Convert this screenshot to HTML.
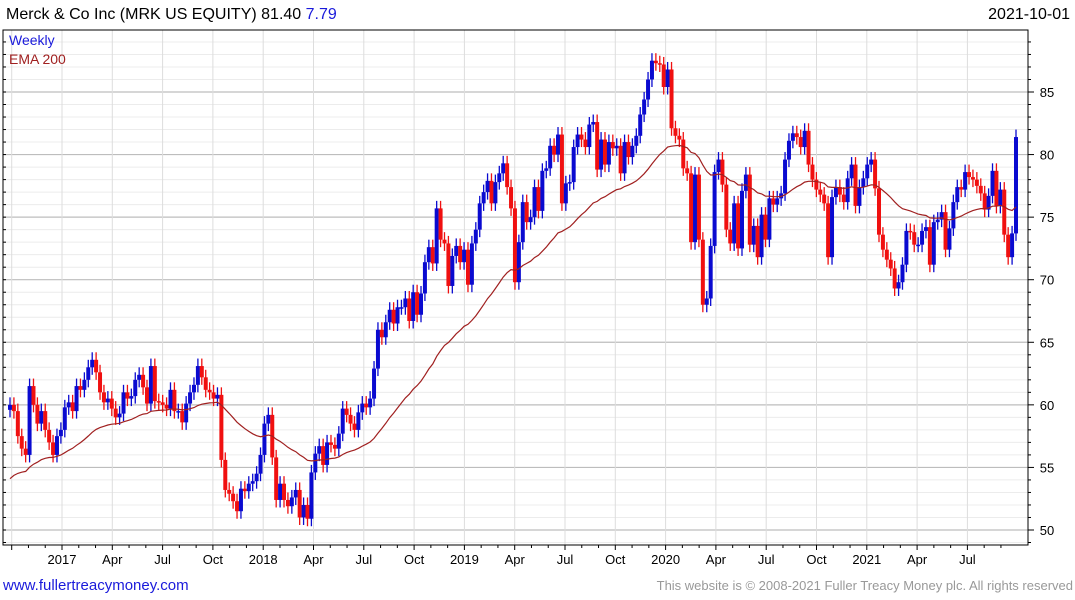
<!DOCTYPE html>
<html><head><meta charset="utf-8"><style>
body{margin:0;background:#fff;width:1075px;height:600px;overflow:hidden;font-family:"Liberation Sans",sans-serif}
svg{position:absolute;left:0;top:0}
</style></head><body>
<svg id="chart" width="1075" height="600">
<g id="grid"></g>
<g id="marks"></g>
<text x="6" y="19" font-size="16" fill="#000">Merck &amp; Co Inc (MRK US EQUITY) 81.40 <tspan fill="#1a1adb">7.79</tspan></text>
<text x="1070" y="19" font-size="16" text-anchor="end" fill="#000">2021-10-01</text>
<text x="9" y="45" font-size="14" fill="#1a1adb">Weekly</text>
<text x="9" y="64" font-size="14" fill="#a02020">EMA 200</text>
<text x="3" y="590" font-size="15" fill="#1a1adb">www.fullertreacymoney.com</text>
<text x="1073" y="590" font-size="13" text-anchor="end" fill="#999">This website is © 2008-2021 Fuller Treacy Money plc. All rights reserved</text>
</svg>
<script>
const closes=[60,59.5,57.5,56.5,56,61.5,60,58.5,59.5,58,57,56,57.5,
58,59.8,60.2,59.5,61.5,61.2,62,63,63.6,62.6,61,60.2,60.5,
59.7,59,59.3,61,60.5,60.7,62,62.4,61.4,60.1,63.1,60.3,60.2,
60,59.7,61.2,59.5,59.5,58.6,60.1,61,61.6,63.1,62.2,61.2,61,
60.5,60.8,55.6,53.2,52.9,52.3,51.5,53.3,53.1,53.7,53.9,54.5,56,
58.5,59.2,55.8,52.4,53.7,52.4,51.9,52.6,53.2,51,52,50.9,54.6,
56.1,56.7,55.2,57,56.8,56.5,57.7,59.7,59.2,58.5,58,59.4,60.1,
59.8,60.5,62.9,66,65.4,66.6,67.6,66.5,67.8,67.8,68.5,66.7,69,
67.2,68.9,71.4,72.6,71.3,75.7,73.2,72.9,69.5,71.9,72.7,71.4,72.4,
69.6,72.9,74,76.1,77,77.9,76.1,77.8,78.5,79.3,77.4,75.7,69.8,
73,76.2,74.6,75,77.4,75.5,78.7,78.9,80.7,80,81.6,76.1,77.7,
77.8,80.6,81.6,81.2,80.6,82.4,82.6,78.8,81.2,79.2,81,80.5,80.7,
78.5,81,79.8,80.7,81.5,83.2,84.4,86,87.5,87.3,87.2,85.4,86.8,
82.1,81.5,81.2,78.9,78.5,73,78.4,73.2,68,68.5,72.7,78.6,79.6,
77.6,74,72.9,76.1,72.5,77.1,78.4,72.8,74.3,71.8,75.2,73.2,76.5,
76,76.5,76.9,79.6,81.1,81.7,81.4,80.6,81.9,79.2,78,77.2,76.8,
76.1,71.8,76.6,77.4,76.8,76.2,78.1,79.2,75.9,77.4,78.1,79.2,79.6,
77.3,73.6,72.4,71.6,70.9,69.3,69.8,71.2,73.9,73.8,72.8,72.8,73.9,
74.2,71.2,74.6,74.8,75.4,72.4,74.1,76.2,77.4,77.2,78.6,78.2,78,
77.5,76.9,75.6,76.7,78.7,75.9,77.2,73.6,71.8,73.7,81.4];
const firstOpen=59.6;
const emaSeed=53.8;
const yTicks=[50,55,60,65,70,75,80,85];
const xLabels=["2017","Apr","Jul","Oct","2018","Apr","Jul","Oct","2019","Apr","Jul","Oct","2020","Apr","Jul","Oct","2021","Apr","Jul"];

const NS="http://www.w3.org/2000/svg";
const L=3,R=1028,T=30,B=545;
const y=v=>92+(85-v)*12.514;
const x=i=>10+i*(1006/(closes.length-1));
const qx=k=>62+k*50.3;
function mk(tag,attrs,parent){const e=document.createElementNS(NS,tag);for(const k in attrs)e.setAttribute(k,attrs[k]);parent.appendChild(e);return e;}
const grid=document.getElementById('grid'),marks=document.getElementById('marks');
// minor grid
for(let v=49;v<=89;v++){const yy=y(v);if(yy<T||yy>B)continue;
 const ln=mk('line',{x1:L,x2:R,y1:yy,y2:yy,stroke:v%5===0?'#bdbdbd':'#ececec','stroke-width':v%5===0?1.2:1},grid);
 
 
 const tk=mk('line',{x1:R,x2:R+(v%5===0?6:3),y1:yy,y2:yy,stroke:'#000'},grid);
 
 
 const lt=mk('line',{x1:L,x2:L+3,y1:yy,y2:yy,stroke:'#000'},grid);
 
 
}
for(let k=-1;k<xLabels.length;k++){const xx=qx(k);
 const ln=mk('line',{x1:xx,x2:xx,y1:T,y2:B,stroke:'#dddddd'},grid);
 
 
}
for(let m=-3;m<57;m++){const xx=qx(0)+m*50.3/3;if(xx<L||xx>R)continue;
 const tk=mk('line',{x1:xx,x2:xx,y1:B,y2:B+(m%3===0?5:3),stroke:'#000'},grid);
 
 
}
xLabels.forEach((s,k)=>{const t=mk('text',{x:qx(k),y:564,'font-size':13,'text-anchor':'middle',fill:'#000'},grid);t.textContent=s;
 
 });
yTicks.forEach(v=>{const t=mk('text',{x:1047,y:y(v)+5,'font-size':13,'text-anchor':'middle',fill:'#000'},grid);t.textContent=v;
 
 });
const fr=mk('rect',{x:L,y:T,width:R-L,height:B-T,fill:'none',stroke:'#000','stroke-width':1},grid);


// candles
let ema=emaSeed;const a=2/41;let pts=[];
closes.forEach((c,i)=>{
 const o=i===0?firstOpen:closes[i-1];
 const hi=Math.max(o,c)+0.6,lo=Math.min(o,c)-0.6;
 const col=c>=o?'#0a0ad0':'#f01010';const xx=x(i);
 const w=mk('line',{x1:xx,x2:xx,y1:y(hi),y2:y(lo),stroke:col,'stroke-width':1.3},marks);
 
 
 const top=y(Math.max(o,c)),bot=y(Math.min(o,c));
 const b=mk('rect',{x:xx-2,y:top,width:4,height:Math.max(1.5,bot-top),fill:col},marks);
 
 
 ema=ema+a*(c-ema);pts.push(xx.toFixed(1)+','+y(ema).toFixed(1));
});
const el=mk('polyline',{points:pts.join(' '),fill:'none',stroke:'#a02020','stroke-width':1.2},marks);


</script>
</body></html>
